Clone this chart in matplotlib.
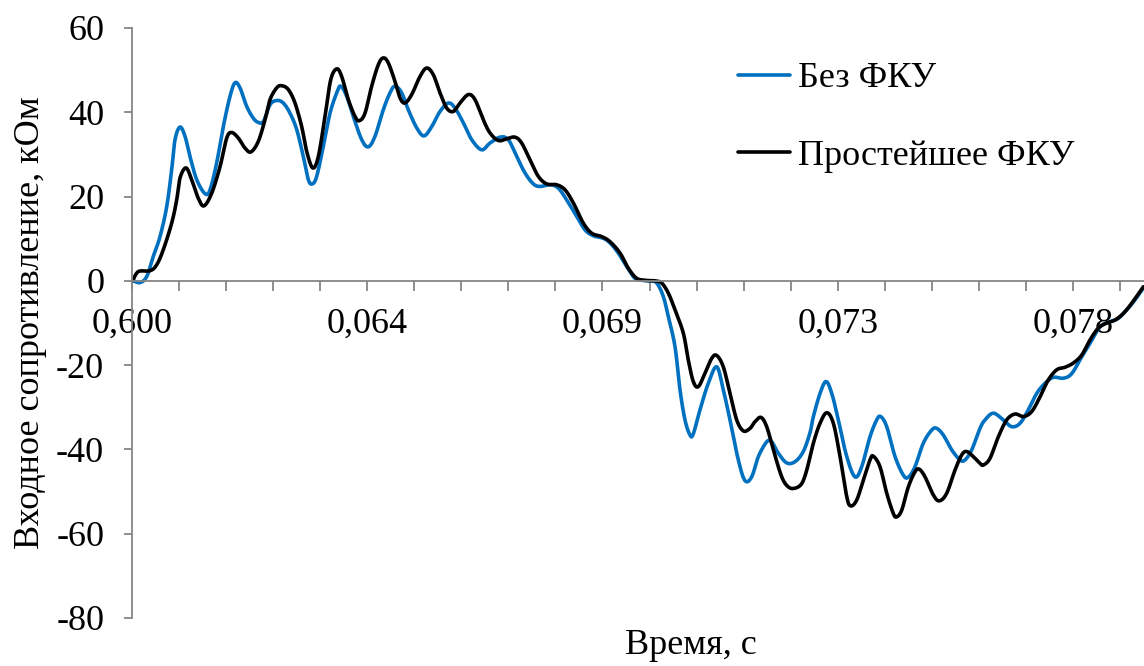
import numpy as np
import matplotlib
matplotlib.use("Agg")
import matplotlib.pyplot as plt

# ---- data (time in ms, resistance in kOhm) ----
t_bez = [60.025, 60.153, 60.281, 60.407, 60.536, 60.664, 60.759, 60.823, 60.918, 61.014,
         61.109, 61.238, 61.396, 61.492, 61.620, 61.746, 61.875, 61.970, 62.066, 62.194,
         62.320, 62.416, 62.512, 62.640, 62.768, 62.894, 63.022, 63.151, 63.277, 63.373,
         63.449, 63.533, 63.659, 63.788, 63.916, 63.992, 64.107, 64.233, 64.394, 64.520,
         64.648, 64.807, 64.935, 65.031, 65.159, 65.285, 65.446, 65.586, 65.733, 65.892,
         66.051, 66.179, 66.338, 66.498, 66.689, 66.848, 67.039, 67.198, 67.359, 67.518,
         67.677, 67.805, 67.996, 68.155, 68.315, 68.507, 68.665, 68.824, 69.016, 69.144,
         69.302, 69.463, 69.622, 69.781, 69.909, 70.037, 70.163, 70.259, 70.387, 70.483,
         70.578, 70.674, 70.737, 70.865, 71.024, 71.185, 71.311, 71.439, 71.598, 71.726,
         71.854, 71.981, 72.141, 72.237, 72.363, 72.524, 72.683, 72.841, 72.970, 73.034,
         73.161, 73.276, 73.385, 73.511, 73.672, 73.830, 73.958, 74.117, 74.245, 74.322,
         74.437, 74.596, 74.754, 74.850, 74.978, 75.137, 75.298, 75.393, 75.520, 75.680,
         75.839, 75.934, 76.063, 76.221, 76.317, 76.476, 76.667, 76.828, 76.987, 77.145,
         77.306, 77.465, 77.624, 77.815, 77.976, 78.167, 78.326, 78.517, 78.708, 78.867,
         79.028, 79.186, 79.346]
r_bez = [0.0, -0.4, 1.0, 5.8, 10.5, 17.6, 26.4, 33.5, 36.5, 34.3,
         29.5, 24.0, 20.7, 21.6, 28.0, 36.6, 43.8, 47.0, 45.8, 41.4,
         38.6, 37.6, 37.8, 41.8, 42.8, 42.2, 39.8, 35.9, 29.5, 24.0,
         23.0, 24.8, 31.9, 39.8, 44.6, 46.2, 43.8, 39.0, 33.5, 31.8,
         34.3, 40.6, 44.6, 46.2, 44.6, 40.6, 36.3, 34.4, 36.6, 40.2,
         42.2, 41.0, 37.5, 33.5, 31.1, 32.7, 34.1, 33.5, 29.5, 25.6,
         23.0, 22.4, 22.8, 22.0, 19.2, 15.3, 12.1, 10.7, 10.1, 9.0,
         6.6, 3.4, 0.6, 0.1, 0.0, -0.5, -3.7, -8.5, -15.6, -25.9,
         -33.0, -36.6, -36.3, -30.6, -24.3, -20.4, -25.9, -33.0, -42.5, -47.4,
         -46.5, -41.7, -38.2, -38.2, -40.9, -43.2, -42.9, -40.5, -36.0, -32.2,
         -26.7, -23.9, -26.7, -33.0, -41.7, -46.5, -44.1, -37.0, -33.0, -32.2,
         -34.6, -41.7, -46.1, -46.6, -44.1, -38.5, -35.4, -35.0, -36.6, -40.1,
         -42.5, -42.5, -40.1, -35.0, -33.0, -31.4, -33.0, -34.6, -33.8, -30.6,
         -26.7, -24.3, -22.9, -23.1, -22.0, -18.0, -14.8, -10.9, -9.7, -8.9,
         -6.9, -4.5, -1.7]

t_fku = [60.013, 60.121, 60.344, 60.472, 60.599, 60.759, 60.855, 60.918, 61.033, 61.142,
         61.268, 61.377, 61.525, 61.684, 61.812, 61.907, 62.033, 62.162, 62.276, 62.416,
         62.544, 62.640, 62.768, 62.864, 62.990, 63.118, 63.246, 63.342, 63.457, 63.564,
         63.692, 63.801, 63.916, 64.011, 64.138, 64.266, 64.348, 64.457, 64.585, 64.712,
         64.807, 64.903, 65.031, 65.127, 65.222, 65.350, 65.509, 65.637, 65.764, 65.892,
         66.020, 66.146, 66.274, 66.433, 66.561, 66.720, 66.848, 67.007, 67.168, 67.326,
         67.454, 67.613, 67.772, 67.933, 68.124, 68.283, 68.442, 68.633, 68.794, 68.985,
         69.144, 69.335, 69.494, 69.655, 69.846, 70.005, 70.131, 70.259, 70.387, 70.546,
         70.641, 70.737, 70.833, 70.961, 71.089, 71.185, 71.311, 71.439, 71.567, 71.694,
         71.822, 71.918, 72.032, 72.141, 72.268, 72.428, 72.555, 72.683, 72.811, 72.907,
         73.034, 73.161, 73.290, 73.416, 73.544, 73.672, 73.748, 73.863, 73.989, 74.117,
         74.180, 74.308, 74.437, 74.563, 74.628, 74.724, 74.850, 74.978, 75.060, 75.169,
         75.328, 75.443, 75.584, 75.743, 75.871, 75.967, 76.093, 76.221, 76.285, 76.413,
         76.572, 76.732, 76.891, 77.050, 77.211, 77.370, 77.528, 77.689, 77.848, 78.006,
         78.167, 78.326, 78.485, 78.646, 78.804, 78.964, 79.124, 79.346]
r_fku = [0.0, 2.2, 2.4, 3.8, 7.4, 13.7, 19.2, 24.4, 26.8, 24.0,
         19.6, 17.8, 20.8, 27.1, 33.9, 35.2, 33.9, 31.5, 30.6, 33.1,
         38.2, 43.0, 45.8, 46.3, 45.4, 42.2, 36.6, 30.7, 26.8, 29.5,
         39.0, 47.7, 50.3, 48.5, 43.0, 39.0, 38.0, 39.8, 46.2, 51.3,
         52.9, 51.7, 47.3, 43.4, 42.2, 44.2, 48.5, 50.5, 48.9, 44.6,
         41.0, 40.2, 42.2, 44.2, 43.0, 38.2, 35.1, 33.3, 33.7, 34.1,
         32.7, 28.7, 24.8, 23.0, 22.8, 21.6, 18.5, 13.7, 11.3, 10.5,
         9.3, 6.6, 3.0, 0.6, 0.1, 0.0, -0.5, -2.9, -6.9, -12.4,
         -18.8, -23.9, -25.1, -21.9, -18.4, -17.7, -20.4, -26.7, -33.0, -35.6,
         -35.0, -33.4, -32.4, -34.6, -40.1, -46.5, -48.9, -49.2, -48.1, -44.9,
         -38.5, -33.8, -31.3, -33.8, -41.7, -51.2, -53.4, -52.0, -47.3, -42.5,
         -41.6, -44.1, -50.4, -55.2, -56.0, -54.4, -48.9, -45.3, -44.7, -46.5,
         -50.8, -52.2, -50.4, -44.9, -41.3, -40.5, -41.7, -43.3, -43.7, -42.1,
         -37.0, -33.0, -31.6, -32.2, -31.0, -27.5, -23.5, -21.1, -20.5, -19.5,
         -17.6, -14.0, -11.2, -10.0, -9.3, -7.7, -5.3, -1.4]

series_names = ["Без ФКУ", "Простейшее ФКУ"]
series_colors = ["#0070C0", "#000000"]

tick_step = 0.9  # ms per category tick
x_tick_labels = ["0,600", "0,064", "0,069", "0,073", "0,078"]
y_ticks = [-80, -60, -40, -20, 0, 20, 40, 60]


def smooth(x, y, n=12):
    """Catmull-Rom smoothing (like Excel's smoothed line)."""
    p = np.column_stack([x, y]).astype(float)
    p = np.vstack([p[0], p, p[-1]])
    out = []
    s = np.linspace(0, 1, n, endpoint=False)[:, None]
    for i in range(1, len(p) - 2):
        p0, p1, p2, p3 = p[i - 1], p[i], p[i + 1], p[i + 2]
        seg = 0.5 * ((2 * p1) + (-p0 + p2) * s + (2 * p0 - 5 * p1 + 4 * p2 - p3) * s ** 2
                     + (-p0 + 3 * p1 - 3 * p2 + p3) * s ** 3)
        out.append(seg)
    out.append(p[-2][None, :])
    out = np.vstack(out)
    return out[:, 0], out[:, 1]


plt.rcParams['font.family'] = ['Liberation Serif', 'DejaVu Serif']
fs = 26

fig = plt.figure(figsize=(11.44, 6.66), dpi=100)
ax = fig.add_axes([132 / 1144, 1 - 618 / 666, 1 - 132 / 1144, 590 / 666])

for tx, ry, name, col in [(t_bez, r_bez, series_names[0], series_colors[0]),
                          (t_fku, r_fku, series_names[1], series_colors[1])]:
    sx, sy = smooth(tx, ry)
    ax.plot(sx, sy, color=col, lw=2.6, label=name, solid_joinstyle='round',
            solid_capstyle='round', clip_on=False)

x0 = 60.0
x_right = x0 + (1144 - 132) / 47.05 * tick_step
ax.set_xlim(x0, x_right)
ax.set_ylim(-80, 60)

grey = "#868686"
for s in ["top", "right"]:
    ax.spines[s].set_visible(False)
ax.spines["bottom"].set_position(("data", 0))
ax.spines["left"].set_color(grey)
ax.spines["bottom"].set_color(grey)
ax.spines["left"].set_linewidth(1.3)
ax.spines["bottom"].set_linewidth(1.3)

minor = [x0 + k * tick_step for k in range(0, 22)]
major = [x0 + k * 5 * tick_step for k in range(len(x_tick_labels))]
ax.set_xticks(minor, minor=True)
ax.set_xticks(major)
ax.set_xticklabels(x_tick_labels, fontsize=fs)
ax.tick_params(axis='x', which='both', direction='out', length=7.5, width=1.3,
               color=grey, pad=12)

ax.set_yticks(y_ticks)
ax.set_yticklabels([str(v) for v in y_ticks], fontsize=fs)
ax.tick_params(axis='y', direction='out', length=6, width=1.3, color=grey, pad=14)

ax.set_ylabel("Входное сопротивление, кОм", fontsize=fs)
ax.yaxis.set_label_coords(-0.084, 0.5)
ax.set_xlabel("Время, с", fontsize=fs)
ax.xaxis.set_label_coords((691 - 132) / 1012, -0.018)

leg = ax.legend(loc='upper left', bbox_to_anchor=(738 / 1144, 1 - 62 / 666),
                bbox_transform=fig.transFigure, frameon=False, fontsize=fs,
                handlelength=1.45, handletextpad=0.2, labelspacing=1.22,
                borderpad=0, borderaxespad=0)
for line in leg.get_lines():
    line.set_linewidth(2.6)

fig.savefig("out.png", dpi=100)
